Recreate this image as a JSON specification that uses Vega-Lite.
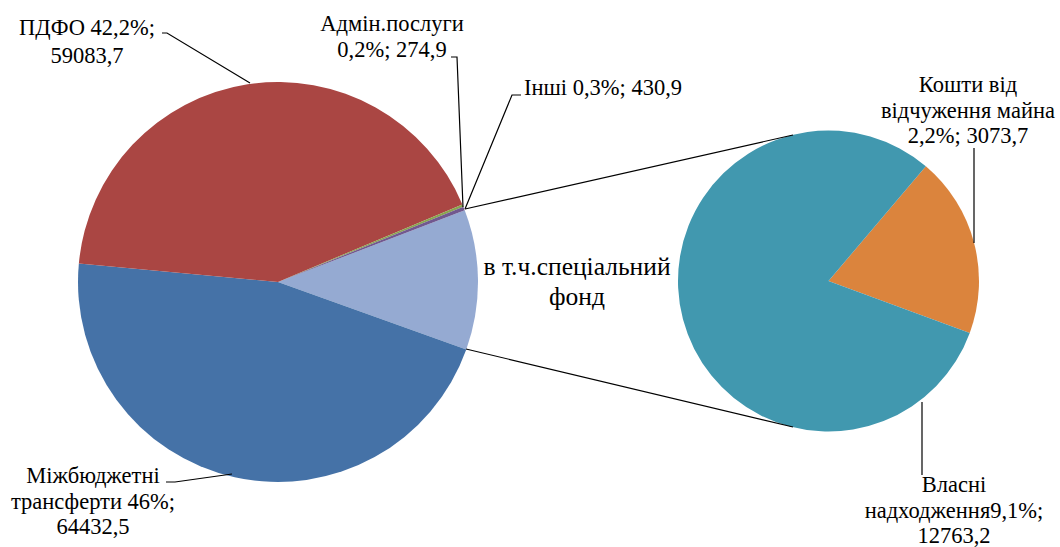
{
  "$schema": "https://vega.github.io/schema/vega-lite/v6.json",
  "width": 1060,
  "height": 547,
  "autosize": "none",
  "padding": 0,
  "background": "white",
  "config": {"view": {"stroke": null}, "font": "'Liberation Serif', 'Times New Roman', serif", "text": {"font": "'Liberation Serif', 'Times New Roman', serif", "fontSize": 22.5, "color": "#000000"}},
  "datasets": {
    "main": [
      {"cat": "в т.ч.спеціальний фонд", "value": 15836.9, "ord": 1},
      {"cat": "Міжбюджетні трансферти", "value": 64432.5, "ord": 2},
      {"cat": "ПДФО", "value": 59083.7, "ord": 3},
      {"cat": "Адмін.послуги", "value": 274.9, "ord": 4},
      {"cat": "Інші", "value": 430.9, "ord": 5}
    ],
    "sub": [
      {"cat": "Кошти від відчуження майна", "value": 3073.7, "ord": 1},
      {"cat": "Власні надходження", "value": 12763.2, "ord": 2}
    ],
    "links": [
      {"id": "c1", "seq": 1, "lx": 0.935, "ly": 0.365},
      {"id": "c1", "seq": 2, "lx": 2.575, "ly": 0.735},
      {"id": "c2", "seq": 1, "lx": 0.94, "ly": -0.335},
      {"id": "c2", "seq": 2, "lx": 2.575, "ly": -0.725},
      {"id": "pdfo", "seq": 1, "lx": -0.58, "ly": 1.245},
      {"id": "pdfo", "seq": 2, "lx": -0.555, "ly": 1.245},
      {"id": "pdfo", "seq": 3, "lx": -0.14, "ly": 0.995},
      {"id": "admin", "seq": 1, "lx": 0.865, "ly": 1.125},
      {"id": "admin", "seq": 2, "lx": 0.895, "ly": 1.125},
      {"id": "admin", "seq": 3, "lx": 0.925, "ly": 0.375},
      {"id": "inshi", "seq": 1, "lx": 1.215, "ly": 0.935},
      {"id": "inshi", "seq": 2, "lx": 1.17, "ly": 0.935},
      {"id": "inshi", "seq": 3, "lx": 0.935, "ly": 0.365},
      {"id": "koshty", "seq": 1, "lx": 3.48, "ly": 0.67},
      {"id": "koshty", "seq": 2, "lx": 3.48, "ly": 0.195},
      {"id": "mizh", "seq": 1, "lx": -0.56, "ly": -1.0},
      {"id": "mizh", "seq": 2, "lx": -0.515, "ly": -1.0},
      {"id": "mizh", "seq": 3, "lx": -0.23, "ly": -0.96},
      {"id": "vlasni", "seq": 1, "lx": 3.22, "ly": -0.6},
      {"id": "vlasni", "seq": 2, "lx": 3.22, "ly": -0.965}
    ]
  },
  "resolve": {"scale": {"theta": "independent"}},
  "layer": [
    {
      "data": {"name": "main"},
      "mark": {"type": "arc", "radius": 200, "stroke": null},
      "encoding": {
        "x": {"datum": 0, "type": "quantitative", "scale": {"domain": [-1.39, 3.91], "nice": false, "zero": false}, "axis": null},
        "y": {"datum": 0, "type": "quantitative", "scale": {"domain": [-1.325, 1.41], "nice": false, "zero": false}, "axis": null},
        "theta": {"field": "value", "type": "quantitative", "stack": true, "scale": {"range": [1.2043, 7.4875]}},
        "order": {"field": "ord", "type": "quantitative"},
        "color": {
          "field": "cat", "type": "nominal", "legend": null,
          "scale": {
            "domain": ["в т.ч.спеціальний фонд", "Міжбюджетні трансферти", "ПДФО", "Адмін.послуги", "Інші", "Кошти від відчуження майна", "Власні надходження"],
            "range": ["#95AAD2", "#4572A7", "#AA4643", "#89A54E", "#71588F", "#DB843D", "#4198AF"]
          }
        }
      }
    },
    {
      "data": {"name": "sub"},
      "mark": {"type": "arc", "radius": 150.5, "stroke": null},
      "encoding": {
        "x": {"datum": 2.7525, "type": "quantitative"},
        "y": {"datum": 0.005, "type": "quantitative"},
        "theta": {"field": "value", "type": "quantitative", "stack": true, "scale": {"range": [0.7034, 6.9866]}},
        "order": {"field": "ord", "type": "quantitative"},
        "color": {"field": "cat", "type": "nominal", "legend": null}
      }
    },
    {
      "data": {"name": "links"},
      "mark": {"type": "line", "stroke": "#000000", "strokeWidth": 1.2},
      "encoding": {
        "x": {"field": "lx", "type": "quantitative"},
        "y": {"field": "ly", "type": "quantitative"},
        "detail": {"field": "id", "type": "nominal"},
        "order": {"field": "seq", "type": "quantitative"}
      }
    },
    {
      "data": {"values": [
        {"label": "ПДФО 42,2%;\n59083,7", "lx": -0.955, "ly": 1.235}
      ]},
      "mark": {"type": "text", "font": "'Liberation Serif', 'DejaVu Serif', serif", "fontSize": 22.5, "align": "center", "baseline": "alphabetic", "lineBreak": "\n", "lineHeight": 28},
      "encoding": {
        "x": {"field": "lx", "type": "quantitative"},
        "y": {"field": "ly", "type": "quantitative"},
        "text": {"field": "label", "type": "nominal"}
      }
    },
    {
      "data": {"values": [
        {"label": "Адмін.послуги\n0,2%; 274,9", "lx": 0.57, "ly": 1.255},
        {"label": "Кошти від\nвідчуження майна\n2,2%; 3073,7", "lx": 3.45, "ly": 0.95},
        {"label": "Міжбюджетні\nтрансферти 46%;\n64432,5", "lx": -0.925, "ly": -1.005},
        {"label": "Власні\nнадходження9,1%;\n12763,2", "lx": 3.38, "ly": -1.05}
      ]},
      "mark": {"type": "text", "font": "'Liberation Serif', 'DejaVu Serif', serif", "fontSize": 22.5, "align": "center", "baseline": "alphabetic", "lineBreak": "\n", "lineHeight": 25.5},
      "encoding": {
        "x": {"field": "lx", "type": "quantitative"},
        "y": {"field": "ly", "type": "quantitative"},
        "text": {"field": "label", "type": "nominal"}
      }
    },
    {
      "data": {"values": [
        {"label": "Інші 0,3%; 430,9", "lx": 1.23, "ly": 0.935}
      ]},
      "mark": {"type": "text", "font": "'Liberation Serif', 'DejaVu Serif', serif", "fontSize": 22.5, "align": "left", "baseline": "alphabetic"},
      "encoding": {
        "x": {"field": "lx", "type": "quantitative"},
        "y": {"field": "ly", "type": "quantitative"},
        "text": {"field": "label", "type": "nominal"}
      }
    },
    {
      "data": {"values": [
        {"label": "в т.ч.спеціальний\nфонд", "lx": 1.495, "ly": 0.035}
      ]},
      "mark": {"type": "text", "font": "'Liberation Serif', 'DejaVu Serif', serif", "align": "center", "baseline": "alphabetic", "lineBreak": "\n", "lineHeight": 30, "fontSize": 25.5},
      "encoding": {
        "x": {"field": "lx", "type": "quantitative"},
        "y": {"field": "ly", "type": "quantitative"},
        "text": {"field": "label", "type": "nominal"}
      }
    }
  ]
}
